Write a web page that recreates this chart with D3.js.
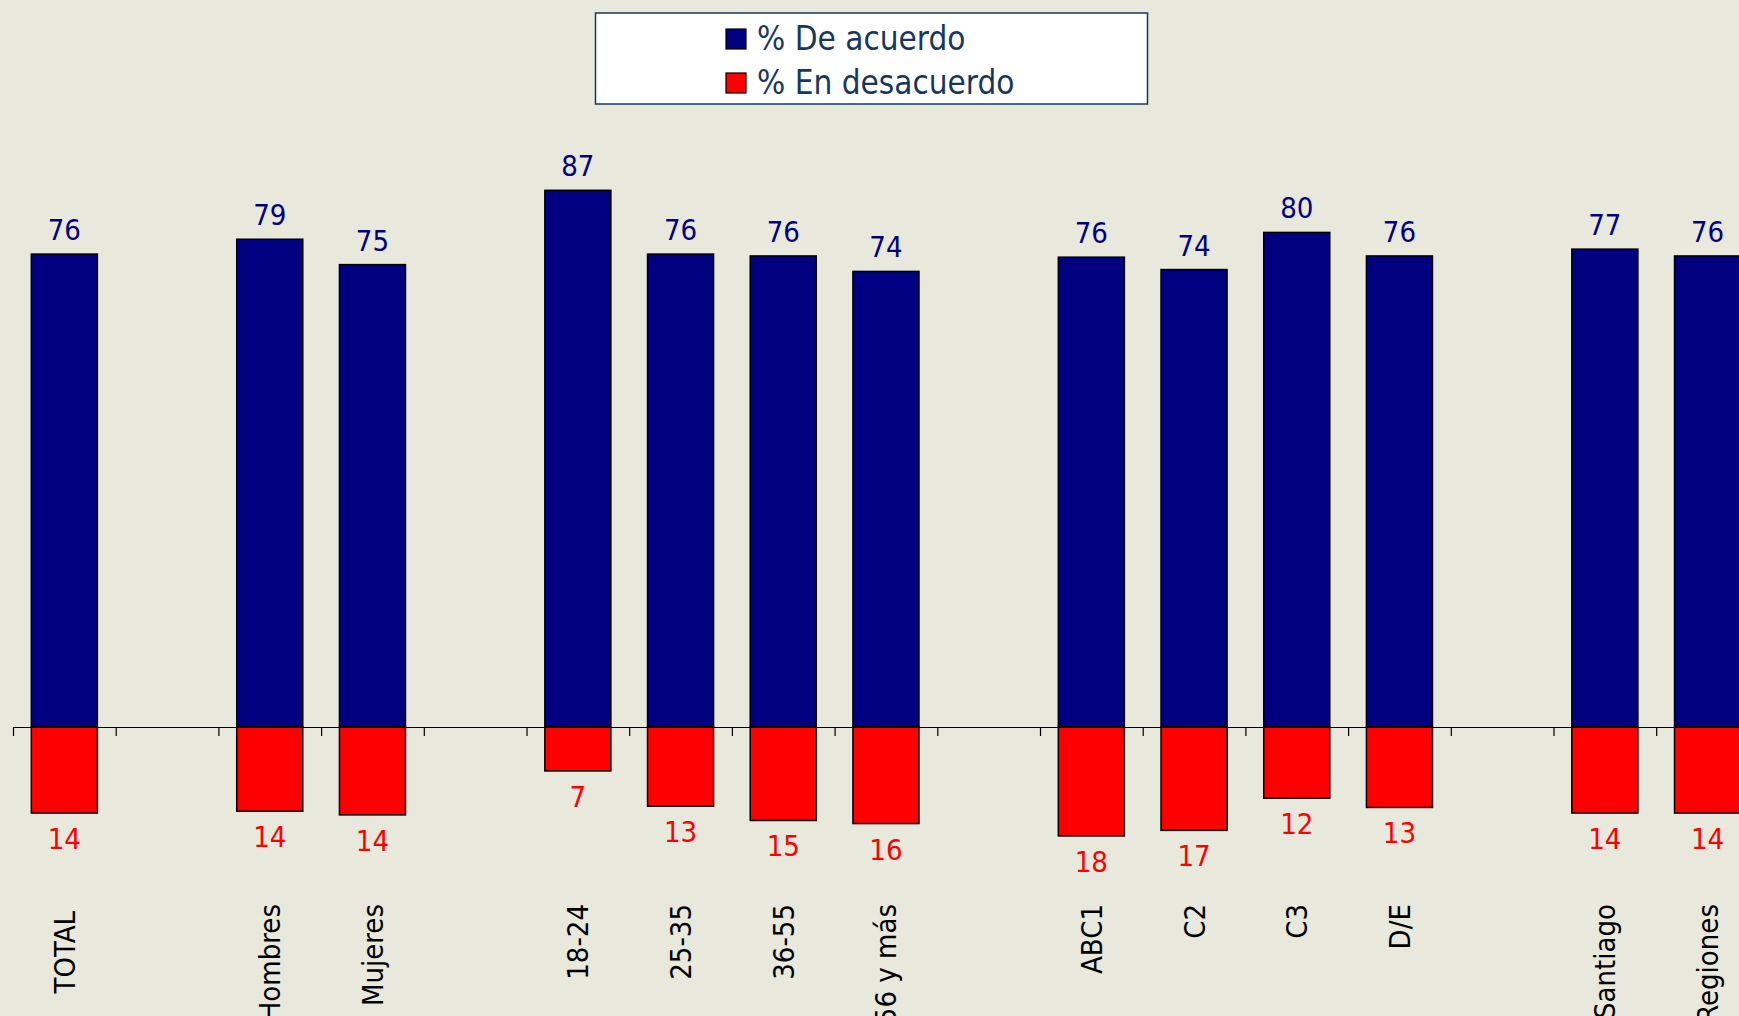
<!DOCTYPE html>
<html>
<head>
<meta charset="utf-8">
<script src="https://cdn.jsdelivr.net/npm/d3@7"></script>
<style>
  html, body { margin: 0; padding: 0; background: #e9e8dd; overflow: hidden; }
  svg { display: block; }
  text { font-family: "DejaVu Sans Condensed", "DejaVu Sans", sans-serif; font-stretch: condensed; }
</style>
</head>
<body>
<script>
// data (bar heights estimated, labels are the rounded values)
var categories = ["TOTAL", "Hombres", "Mujeres", "18-24", "25-35", "36-55", "56 y más",
                  "ABC1", "C2", "C3", "D/E", "Santiago", "Regiones"];
var groupSizes = [1, 2, 4, 4, 2];
var deAcuerdo = [76.4, 78.8, 74.7, 86.7, 76.4, 76.1, 73.6, 75.9, 73.9, 79.9, 76.1, 77.2, 76.1];
var enDesacuerdo = [13.9, 13.6, 14.2, 7.1, 12.8, 15.1, 15.6, 17.6, 16.7, 11.5, 13.0, 13.9, 13.9];
var legendLabels = ["% De acuerdo", "% En desacuerdo"];

var w = 1739, h = 1016;
var axisY = 727;
var left = 13, step = 102.7;

// slots: categories with an empty slot between groups
var slots = [];
var k = 0;
groupSizes.forEach(function(n, gi) {
  if (gi > 0) slots.push("_gap" + gi);
  for (var i = 0; i < n; i++) slots.push(categories[k++]);
});

var svg = d3.select('body')
  .append('svg')
  .attr('width', w)
  .attr('height', h);

// SCALES
var xScale = d3.scaleBand()
  .domain(slots)
  .range([left, left + step * slots.length])
  .paddingInner(0.357)
  .paddingOuter(0.357 / 2);

var yScale = d3.scaleLinear()
  .domain([0, 100])
  .range([axisY, axisY - 619]);

var data = categories.map(function(c, i) {
  return { cat: c, pos: deAcuerdo[i], neg: enDesacuerdo[i] };
});

// BARS
svg.selectAll('rect.pos')
  .data(data)
  .enter()
  .append('rect')
    .attr('class', 'pos')
    .attr('x', d => xScale(d.cat))
    .attr('y', d => yScale(d.pos))
    .attr('width', xScale.bandwidth())
    .attr('height', d => yScale(0) - yScale(d.pos))
    .attr('fill', '#000080')
    .attr('stroke', '#000')
    .attr('stroke-width', 1.5);

svg.selectAll('rect.neg')
  .data(data)
  .enter()
  .append('rect')
    .attr('class', 'neg')
    .attr('x', d => xScale(d.cat))
    .attr('y', yScale(0))
    .attr('width', xScale.bandwidth())
    .attr('height', d => yScale(-d.neg) - yScale(0))
    .attr('fill', '#ff0000')
    .attr('stroke', '#000')
    .attr('stroke-width', 1.5);

// VALUE LABELS
svg.selectAll('text.posLabel')
  .data(data)
  .enter()
  .append('text')
    .attr('x', d => xScale(d.cat) + xScale.bandwidth() / 2)
    .attr('y', d => yScale(d.pos) - 14)
    .attr('text-anchor', 'middle')
    .style('font-size', '29px')
    .attr('fill', '#000080')
    .text(d => Math.round(d.pos));

svg.selectAll('text.negLabel')
  .data(data)
  .enter()
  .append('text')
    .attr('x', d => xScale(d.cat) + xScale.bandwidth() / 2)
    .attr('y', d => yScale(-d.neg) + 36)
    .attr('text-anchor', 'middle')
    .style('font-size', '29px')
    .attr('fill', '#ff0000')
    .text(d => Math.round(d.neg));

// AXIS (ticks at slot boundaries)
var slotScale = d3.scaleLinear()
  .domain([0, slots.length])
  .range([left, left + step * slots.length]);

var xAxis = d3.axisBottom(slotScale)
  .tickValues(d3.range(slots.length + 1))
  .tickSize(9)
  .tickSizeOuter(0)
  .tickFormat('');

svg.append('g')
  .attr('transform', `translate(0,${axisY})`)
  .call(xAxis)
  .call(g => g.selectAll('path, line').attr('stroke', '#000').attr('stroke-width', 1.2));

// category labels, rotated
svg.selectAll('text.cat')
  .data(categories)
  .enter()
  .append('text')
    .attr('transform', d => "translate(" + (xScale(d) + xScale.bandwidth() / 2) + "," + (d === "TOTAL" ? 911 : 904) + ")rotate(-90)")
    .attr('text-anchor', 'end')
    .attr('dy', '0.36em')
    .style('font-size', '29px')
    .attr('fill', '#000')
    .text(d => d);

// LEGEND
var legend = svg.append('g');
legend.append('rect')
  .attr('x', 595.5)
  .attr('y', 13)
  .attr('width', 552)
  .attr('height', 91)
  .attr('fill', '#fff')
  .attr('stroke', '#17375e')
  .attr('stroke-width', 1.5);

var legendColors = ['#000080', '#ff0000'];
legendLabels.forEach(function(lbl, i) {
  legend.append('rect')
    .attr('x', 726)
    .attr('y', 29 + i * 44)
    .attr('width', 20)
    .attr('height', 20)
    .attr('fill', legendColors[i])
    .attr('stroke', '#000')
    .attr('stroke-width', 1.2);
  legend.append('text')
    .attr('x', 757)
    .attr('y', 50 + i * 44)
    .style('font-size', '33px')
    .attr('fill', '#17375e')
    .text(lbl);
});
</script>
</body>
</html>
